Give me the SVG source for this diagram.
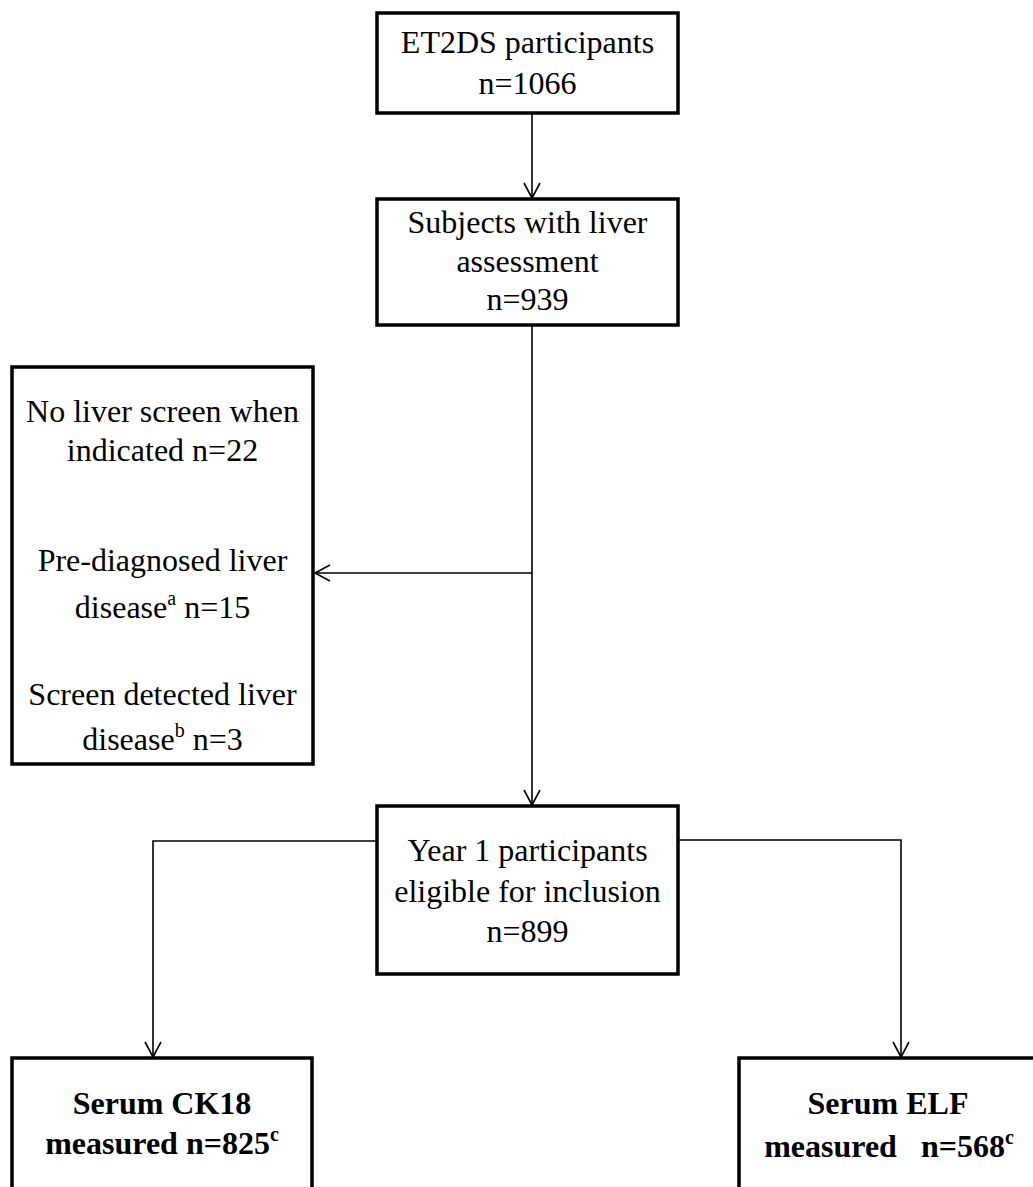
<svg xmlns="http://www.w3.org/2000/svg" width="1033" height="1187" viewBox="0 0 1033 1187">
<style>
.box{fill:#fff;stroke:#000;stroke-width:3.5}
.t{font-family:"Liberation Serif","Times New Roman",serif;font-size:32px;fill:#000;text-anchor:middle}
.b{font-weight:bold}
.conn{fill:none;stroke:#000;stroke-width:1.6}
</style>
<defs>
<marker id="arr" markerUnits="userSpaceOnUse" markerWidth="20" markerHeight="20" viewBox="-17 -10 20 20" refX="0" refY="0" orient="auto" overflow="visible">
<path d="M-15,-8 L0,0 L-15,8" fill="none" stroke="#000" stroke-width="1.6"/>
</marker>
</defs>
<rect width="1033" height="1187" fill="#fff"/>
<g id="connectors">
<path class="conn" d="M532,114 L532,198" marker-end="url(#arr)"/>
<path class="conn" d="M532,326 L532,805" marker-end="url(#arr)"/>
<path class="conn" d="M532,573 L315,573" marker-end="url(#arr)"/>
<path class="conn" d="M377,841 L153,841 L153,1057" marker-end="url(#arr)"/>
<path class="conn" d="M678,840 L901,840 L901,1057" marker-end="url(#arr)"/>
</g>
<g id="n1">
<rect class="box" x="377" y="13" width="301" height="100"/>
<text class="t" x="527.5" y="53">ET2DS participants</text>
<text class="t" x="527.5" y="94">n=1066</text>
</g>
<g id="n2">
<rect class="box" x="377" y="199" width="301" height="126"/>
<text class="t" x="527.5" y="233">Subjects with liver</text>
<text class="t" x="527.5" y="272">assessment</text>
<text class="t" x="527.5" y="310">n=939</text>
</g>
<g id="n3">
<rect class="box" x="12" y="367" width="301" height="397"/>
<text class="t" x="162.5" y="422">No liver screen when</text>
<text class="t" x="162.5" y="461">indicated n=22</text>
<text class="t" x="162.5" y="571">Pre-diagnosed liver</text>
<text class="t" x="162.5" y="618">disease<tspan font-size="20" dy="-13">a</tspan><tspan dy="13"> n=15</tspan></text>
<text class="t" x="162.5" y="705">Screen detected liver</text>
<text class="t" x="162.5" y="750">disease<tspan font-size="20" dy="-13">b</tspan><tspan dy="13"> n=3</tspan></text>
</g>
<g id="n4">
<rect class="box" x="377" y="806" width="301" height="168"/>
<text class="t" x="527.5" y="861">Year 1 participants</text>
<text class="t" x="527.5" y="902">eligible for inclusion</text>
<text class="t" x="527.5" y="942">n=899</text>
</g>
<g id="n5">
<rect class="box" x="12" y="1058" width="300" height="160"/>
<text class="t b" x="162" y="1114">Serum CK18</text>
<text class="t b" x="162" y="1154">measured n=825<tspan font-size="20" dy="-13">c</tspan></text>
</g>
<g id="n6">
<rect class="box" x="739" y="1058" width="320" height="160"/>
<text class="t b" x="888" y="1114">Serum ELF</text>
<text class="t b" x="889" y="1157" xml:space="preserve">measured   n=568<tspan font-size="20" dy="-13">c</tspan></text>
</g>
</svg>
